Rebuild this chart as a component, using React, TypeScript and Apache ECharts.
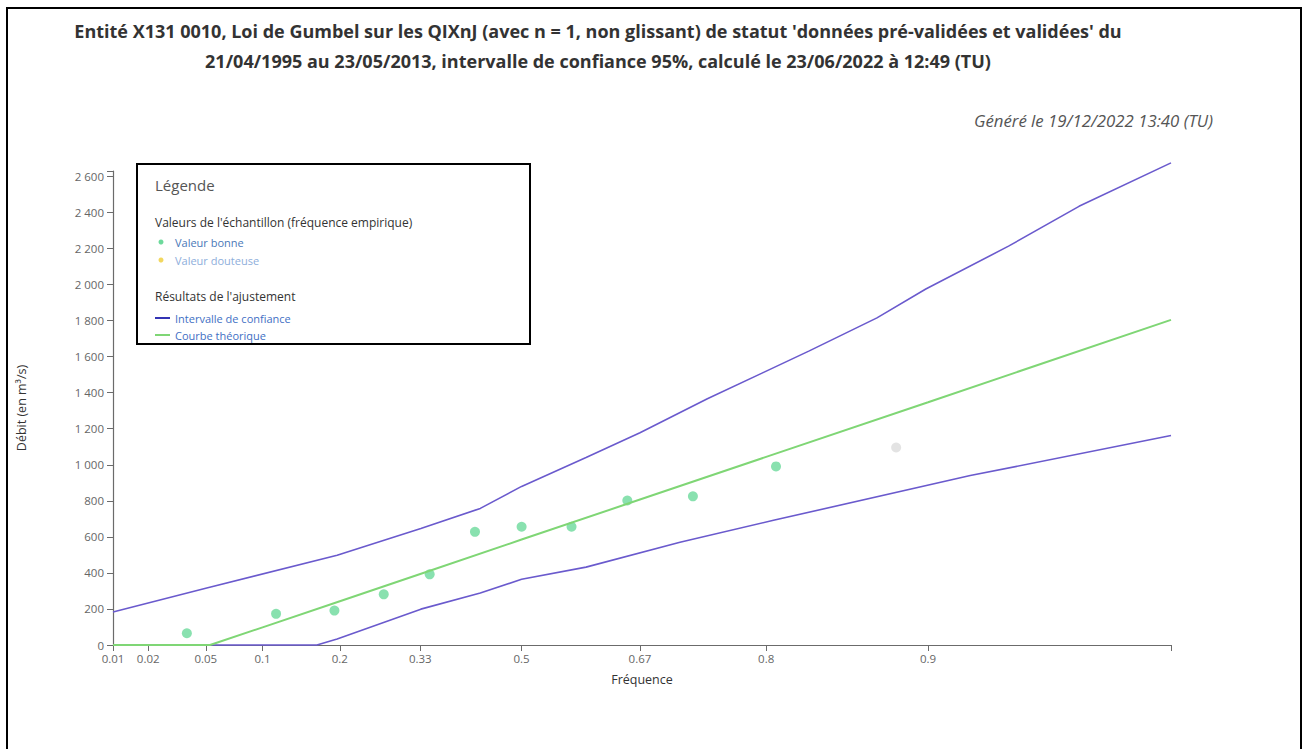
import React, { useEffect, useRef } from "react";
import * as echarts from "echarts";

// ---- Data (frequencies on a Gumbel probability scale, discharge in m3/s) ----
const freqTicks = [0.01, 0.02, 0.05, 0.1, 0.2, 0.33, 0.5, 0.67, 0.8, 0.9];
const freqTickLabels = ["0.01", "0.02", "0.05", "0.1", "0.2", "0.33", "0.5", "0.67", "0.8", "0.9"];
const freqMin = 0.01;
const freqMax = 0.9664;
const yTicks = [0, 200, 400, 600, 800, 1000, 1200, 1400, 1600, 1800, 2000, 2200, 2400, 2600];
const yMax = 2630;

const goodFreq = [0.038, 0.115, 0.192, 0.269, 0.346, 0.423, 0.5, 0.577, 0.654, 0.731, 0.808];
const goodVal = [65, 173, 191, 281, 392, 628, 656, 656, 802, 825, 991];
const greyFreq = [0.885];
const greyVal = [1096];

const theoFreq = [0.01, 0.053, 0.1, 0.2, 0.33, 0.5, 0.67, 0.8, 0.9, 0.9664];
const theoVal = [0, 0, 98, 243, 394, 585, 807, 1044, 1347, 1804];

const upperFreq = [0.01, 0.05, 0.196, 0.331, 0.432, 0.5, 0.598, 0.67, 0.746, 0.797, 0.833, 0.875, 0.899, 0.93, 0.949, 0.9664];
const upperVal = [183, 315, 498, 647, 758, 880, 1040, 1178, 1366, 1510, 1632, 1815, 1975, 2213, 2434, 2675];

const lowerFreq = [0.01, 0.167, 0.196, 0.331, 0.432, 0.5, 0.598, 0.717, 0.806, 0.917, 0.9664];
const lowerVal = [0, 0, 33, 199, 288, 365, 432, 570, 692, 940, 1162];

// Gumbel reduced variate: the axis scale of a Gumbel probability plot
const gumbel = (f: number) => -Math.log(-Math.log(f));
const pairs = (fs: number[], vs: number[]) => fs.map((f, i) => [gumbel(f), vs[i]]);

const BLUE = "#6a5acd";
const GREEN = "#7fd675";
const DOT = "#6cd99b";
const GREY_DOT = "#dcdcdc";
const FONT = "'Open Sans', 'Noto Sans', sans-serif";

export default function App() {
  const ref = useRef<HTMLDivElement>(null);
  useEffect(() => {
    if (!ref.current) return;
    const chart = echarts.init(ref.current, undefined, { renderer: "svg" });
    const xMin = gumbel(freqMin);
    const xMax = gumbel(freqMax);
    const tickU = freqTicks.map(gumbel);
    const fmtX = (v: number) => {
      let best = 0;
      tickU.forEach((u, i) => {
        if (Math.abs(u - v) < Math.abs(tickU[best] - v)) best = i;
      });
      return freqTickLabels[best];
    };
    const fmtY = (v: number) => {
      if (v >= 1000) {
        const th = Math.floor(v / 1000);
        const r = String(v % 1000).padStart(3, "0");
        return th + " " + r;
      }
      return String(v);
    };
    const axisColor = "#6b6b6b";
    chart.setOption({
      animation: false,
      backgroundColor: "#ffffff",
      textStyle: { fontFamily: FONT },
      grid: { left: 113, right: 135, top: 171, bottom: 104, containLabel: false },
      xAxis: {
        type: "value",
        min: xMin,
        max: xMax,
        name: "Fréquence",
        nameLocation: "middle",
        nameGap: 28,
        nameTextStyle: { color: "#333", fontSize: 12.5, fontFamily: FONT },
        axisLine: { show: true, onZero: false, lineStyle: { color: axisColor, width: 1.2 } },
        axisTick: { show: true, length: 6, lineStyle: { color: axisColor }, customValues: [...tickU, xMax] },
        axisLabel: { customValues: tickU, formatter: fmtX, color: "#666", fontSize: 11.5, margin: 7, fontFamily: FONT },
        splitLine: { show: false },
      },
      yAxis: {
        type: "value",
        min: 0,
        max: yMax,
        name: "Débit (en m³/s)",
        nameLocation: "middle",
        nameGap: 85,
        nameRotate: 90,
        nameTextStyle: { color: "#333", fontSize: 12.5, fontFamily: FONT },
        axisLine: { show: true, onZero: false, lineStyle: { color: axisColor, width: 1.2 } },
        axisTick: { show: true, length: 6, lineStyle: { color: axisColor }, customValues: [...yTicks, yMax] },
        axisLabel: { customValues: yTicks, formatter: fmtY, color: "#666", fontSize: 11.5, margin: 9, fontFamily: FONT },
        splitLine: { show: false },
      },
      series: [
        {
          name: "Intervalle de confiance (haut)",
          type: "line",
          data: pairs(upperFreq, upperVal),
          showSymbol: false,
          clip: false,
          lineStyle: { color: BLUE, width: 1.6 },
          itemStyle: { color: BLUE },
        },
        {
          name: "Intervalle de confiance (bas)",
          type: "line",
          data: pairs(lowerFreq, lowerVal),
          showSymbol: false,
          clip: false,
          lineStyle: { color: BLUE, width: 1.6 },
          itemStyle: { color: BLUE },
        },
        {
          name: "Courbe théorique",
          type: "line",
          data: pairs(theoFreq, theoVal),
          showSymbol: false,
          clip: false,
          lineStyle: { color: GREEN, width: 2 },
          itemStyle: { color: GREEN },
        },
        {
          name: "Valeur bonne",
          type: "scatter",
          data: pairs(goodFreq, goodVal),
          symbolSize: 10,
          itemStyle: { color: DOT },
        },
        {
          name: "Autre valeur",
          type: "scatter",
          data: pairs(greyFreq, greyVal),
          symbolSize: 10,
          itemStyle: { color: GREY_DOT },
        },
      ],
      graphic: [
        {
          type: "rect",
          shape: { x: 7, y: 8, width: 1294, height: 760 },
          style: { fill: "none", stroke: "#000", lineWidth: 2 },
          silent: true,
          z: 100,
        },
        {
          type: "text",
          x: 598,
          y: 31,
          style: {
            text: "Entité X131 0010, Loi de Gumbel sur les QIXnJ (avec n = 1, non glissant) de statut 'données pré-validées et validées' du",
            textAlign: "center",
            textVerticalAlign: "middle",
            font: `bold 18px ${FONT}`,
            fill: "#333",
          },
        },
        {
          type: "text",
          x: 598,
          y: 61,
          style: {
            text: "21/04/1995 au 23/05/2013, intervalle de confiance 95%, calculé le 23/06/2022 à 12:49 (TU)",
            textAlign: "center",
            textVerticalAlign: "middle",
            font: `bold 18px ${FONT}`,
            fill: "#333",
          },
        },
        {
          type: "text",
          x: 1213,
          y: 120,
          style: {
            text: "Généré le 19/12/2022 13:40 (TU)",
            textAlign: "right",
            textVerticalAlign: "middle",
            font: `italic 16.8px ${FONT}`,
            fill: "#555",
          },
        },
        {
          type: "group",
          z: 50,
          children: [
            {
              type: "rect",
              shape: { x: 137, y: 164, width: 393, height: 180 },
              style: { fill: "#fff", stroke: "#000", lineWidth: 2 },
            },
            {
              type: "text",
              x: 155,
              y: 185,
              style: { text: "Légende", textVerticalAlign: "middle", font: `15px ${FONT}`, fill: "#555" },
            },
            {
              type: "text",
              x: 155,
              y: 222,
              style: {
                text: "Valeurs de l'échantillon (fréquence empirique)",
                textVerticalAlign: "middle",
                font: `12px ${FONT}`,
                fill: "#333",
              },
            },
            { type: "circle", shape: { cx: 161, cy: 242, r: 2.5 }, style: { fill: DOT } },
            {
              type: "text",
              x: 175,
              y: 242,
              style: { text: "Valeur bonne", textVerticalAlign: "middle", font: `11px ${FONT}`, fill: "#4a78b8" },
            },
            { type: "circle", shape: { cx: 161, cy: 260, r: 2.5 }, style: { fill: "#f2d75e" } },
            {
              type: "text",
              x: 175,
              y: 260,
              style: { text: "Valeur douteuse", textVerticalAlign: "middle", font: `11px ${FONT}`, fill: "#8eaedb" },
            },
            {
              type: "text",
              x: 155,
              y: 296,
              style: {
                text: "Résultats de l'ajustement",
                textVerticalAlign: "middle",
                font: `12px ${FONT}`,
                fill: "#333",
              },
            },
            {
              type: "line",
              shape: { x1: 155, y1: 318, x2: 170, y2: 318 },
              style: { stroke: "#3434b4", lineWidth: 2 },
            },
            {
              type: "text",
              x: 175,
              y: 318,
              style: {
                text: "Intervalle de confiance",
                textVerticalAlign: "middle",
                font: `11px ${FONT}`,
                fill: "#3f6fc4",
              },
            },
            {
              type: "line",
              shape: { x1: 155, y1: 335, x2: 170, y2: 335 },
              style: { stroke: GREEN, lineWidth: 2 },
            },
            {
              type: "text",
              x: 175,
              y: 335,
              style: { text: "Courbe théorique", textVerticalAlign: "middle", font: `11px ${FONT}`, fill: "#3f6fc4" },
            },
          ],
        },
      ],
    });
    return () => chart.dispose();
  }, []);
  return (
    <div
      ref={ref}
      style={{ position: "fixed", left: 0, top: 0, width: 1306, height: 749 }}
    />
  );
}
